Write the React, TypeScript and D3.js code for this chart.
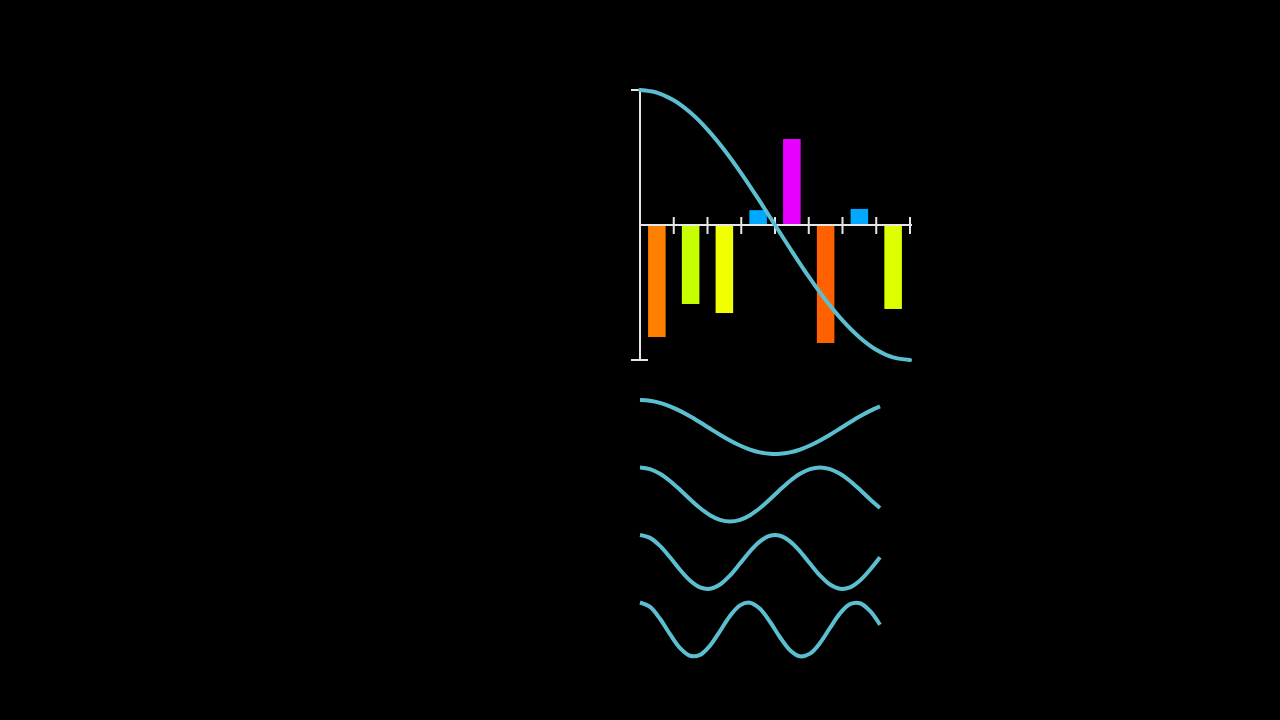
import React from 'react'
import * as d3 from 'd3'

// bar heights (DCT coefficients)
const coefIndex = ['0', '1', '2', '3', '4', '5', '6', '7']
const coefValues = [-0.83, -0.585, -0.652, 0.11, 0.637, -0.874, 0.119, -0.622]
const coefColors = ['#ff8000', '#c8ff00', '#f2ff00', '#00a8ff', '#e800ff', '#ff6000', '#00a8ff', '#ddff00']

// first basis curve, sampled along the full axis (17 samples)
const baseCurve = [
	1, 0.981, 0.924, 0.831, 0.707, 0.556, 0.383, 0.195, 0, -0.195, -0.383, -0.556, -0.707, -0.831,
	-0.924, -0.981, -1,
]

// lower waves, sampled every 10px over 240px (25 samples each)
const wave2 = [
	1, 0.973, 0.894, 0.766, 0.597, 0.396, 0.174, -0.058, -0.287, -0.5, -0.686, -0.835, -0.94, -0.993,
	-0.993, -0.94, -0.835, -0.686, -0.5, -0.287, -0.058, 0.174, 0.396, 0.597, 0.766,
]
const wave3 = [
	1, 0.94, 0.766, 0.5, 0.174, -0.174, -0.5, -0.766, -0.94, -1, -0.94, -0.766, -0.5, -0.174, 0.174,
	0.5, 0.766, 0.94, 1, 0.94, 0.766, 0.5, 0.174, -0.174, -0.5,
]
const wave4 = [
	1, 0.894, 0.597, 0.174, -0.287, -0.686, -0.94, -0.993, -0.835, -0.5, -0.058, 0.396, 0.766, 0.973,
	0.973, 0.766, 0.396, -0.058, -0.5, -0.835, -0.993, -0.94, -0.686, -0.287, 0.174,
]
const wave5 = [
	1, 0.835, 0.396, -0.174, -0.686, -0.973, -0.94, -0.597, -0.058, 0.5, 0.894, 0.993, 0.766, 0.287,
	-0.287, -0.766, -0.993, -0.894, -0.5, 0.058, 0.597, 0.94, 0.973, 0.686, 0.174,
]
const waves = [wave2, wave3, wave4, wave5]

const curveColor = '#5bbfd0'
const axisColor = '#e6e6e6'

const App = () => {
	const left = 640,
		right = 910,
		top = 90,
		bottom = 360

	const x = d3.scaleBand().domain(coefIndex).range([left, right]).paddingInner(0).paddingOuter(0)
	const y = d3.scaleLinear().domain([-1, 1]).range([bottom, top])
	const barW = x.bandwidth() * 0.52

	const tCurve = d3.scaleLinear().domain([0, baseCurve.length - 1]).range([left, right])
	const topLine = d3
		.line<number>()
		.x((_, i) => tCurve(i))
		.y((d) => y(d))
		.curve(d3.curveCatmullRom)

	// lower waves: 10px per sample, stacked bands
	const tWave = d3.scaleLinear().domain([0, 27]).range([left, right])
	const waveBand = d3
		.scaleBand()
		.domain(waves.map((_, i) => String(i)))
		.range([393.25, 663.25])
	const amp = 27

	const ticks = coefIndex.map((_, i) => left + x.step() * (i + 1))

	return (
		<div style={{ position: 'fixed', inset: 0, background: '#000' }}>
			<svg width={1280} height={720} style={{ display: 'block' }}>
				<rect width={1280} height={720} fill="#000" />
				{/* bars */}
				{coefValues.map((v, i) => (
					<rect
						key={i}
						x={x(coefIndex[i])! + (x.bandwidth() - barW) / 2}
						y={Math.min(y(v), y(0))}
						width={barW}
						height={Math.abs(y(v) - y(0))}
						fill={coefColors[i]}
					/>
				))}
				{/* axes */}
				<g stroke={axisColor} strokeWidth={2}>
					<line x1={left} x2={left} y1={top} y2={bottom} />
					<line x1={left - 9} x2={left + 8} y1={top} y2={top} />
					<line x1={left - 9} x2={left + 8} y1={bottom} y2={bottom} />
					<line x1={left} x2={right + 2} y1={y(0)} y2={y(0)} />
					{ticks.map((t, i) => (
						<line key={i} x1={t} x2={t} y1={y(0) - 8} y2={y(0) + 9} />
					))}
				</g>
				<path d={topLine(baseCurve)!} fill="none" stroke={curveColor} strokeWidth={4} strokeLinecap="round" />
				{waves.map((w, k) => {
					const c = waveBand(String(k))! + waveBand.bandwidth() / 2
					const wl = d3
						.line<number>()
						.x((_, i) => tWave(i))
						.y((d) => c - d * amp)
						.curve(d3.curveCatmullRom)
					return <path key={k} d={wl(w)!} fill="none" stroke={curveColor} strokeWidth={4} />
				})}
			</svg>
		</div>
	)
}

export default App
